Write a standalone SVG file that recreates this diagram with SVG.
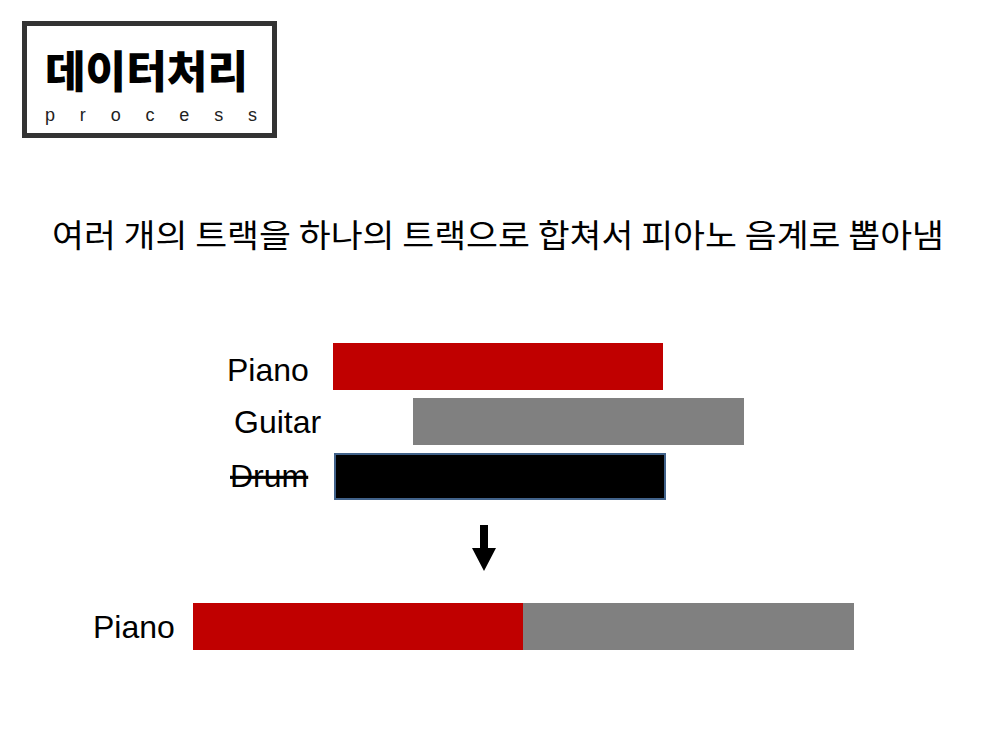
<svg xmlns="http://www.w3.org/2000/svg" width="1000" height="750" viewBox="0 0 1000 750">
<style>
.lbl{font-family:"Liberation Sans",Arial,sans-serif;font-size:32px;fill:#000}
.kr{font-family:"Noto Sans CJK KR","Noto Sans",sans-serif;fill:#000}
</style>
<rect width="1000" height="750" fill="#fff"/>
<g id="logo">
<rect x="24.5" y="23.5" width="250" height="112" fill="#fff" stroke="#333" stroke-width="5"/>
<text class="kr" x="45" y="88" font-size="44" font-weight="900" textLength="203" lengthAdjust="spacingAndGlyphs" fill="#222">데이터처리</text>
<text x="45" y="121" font-family="Liberation Sans,Arial,sans-serif" font-size="18" textLength="212" lengthAdjust="spacing" fill="#222">process</text>
</g>
<g id="subtitle">
<text class="kr" x="52" y="247" font-size="32" font-weight="400" textLength="892" lengthAdjust="spacingAndGlyphs">여러 개의 트랙을 하나의 트랙으로 합쳐서 피아노 음계로 뽑아냄</text>
</g>
<g id="piano-track">
<text class="lbl" x="227" y="381">Piano</text>
<rect x="333" y="343" width="330" height="47" fill="#c00000"/>
</g>
<g id="guitar-track">
<text class="lbl" x="234" y="433">Guitar</text>
<rect x="413" y="398" width="331" height="47" fill="#808080"/>
</g>
<g id="drum-track">
<text class="lbl" x="230" y="487" text-decoration="line-through">Drum</text>
<rect x="335" y="454" width="330" height="45" fill="#000" stroke="#41628a" stroke-width="2"/>
</g>
<g id="connectors">
<path d="M480 525 H488 V548 H496 L484 571 L472 548 H480 Z" fill="#000"/>
</g>
<g id="merged-track">
<text class="lbl" x="93" y="638">Piano</text>
<rect x="193" y="603" width="330" height="47" fill="#c00000"/>
<rect x="523" y="603" width="331" height="47" fill="#808080"/>
</g>
</svg>
